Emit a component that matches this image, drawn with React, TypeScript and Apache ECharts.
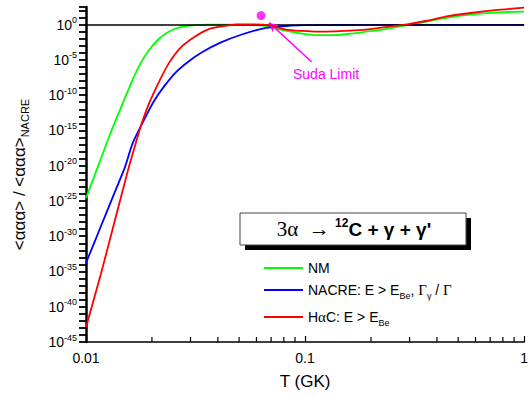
import React, { useEffect, useRef } from 'react';
import * as echarts from 'echarts';

// Temperature (GK) and rate ratios
const T_NM = [0.01, 0.01119, 0.01253, 0.01373, 0.01506, 0.01634, 0.01773, 0.01945, 0.02154, 0.02387, 0.02698, 0.03145, 0.0359, 0.0489, 0.05995, 0.0685, 0.0814, 0.097, 0.114, 0.136, 0.161, 0.19, 0.2268, 0.287, 0.3594, 0.45, 0.5694, 0.7356, 1.0];
const V_NM = [2.5e-25, 2.5e-21, 3.2e-17, 4.0e-14, 4.0e-11, 1.6e-8, 3.2e-6, 2.8e-4, 1.0e-2, 0.1, 0.45, 0.85, 1, 1, 0.85, 0.52, 0.14, 0.052, 0.032, 0.032, 0.052, 0.1, 0.2, 0.72, 2.7, 10, 26, 50, 71];

const T_NACRE = [0.01, 0.01166, 0.01359, 0.01506, 0.01634, 0.01848, 0.02048, 0.02268, 0.02564, 0.02929, 0.03415, 0.0411, 0.05142, 0.0663, 0.0858, 0.1, 0.2, 0.5, 1.0];
const V_NACRE = [1.6e-34, 2.0e-29, 2.5e-24, 6.3e-21, 1.6e-17, 4.0e-14, 1.6e-11, 1.6e-9, 1.6e-7, 5.6e-6, 1.4e-4, 2.8e-3, 0.04, 0.35, 0.7, 0.85, 0.9, 0.9, 0.9];

const T_HAC = [0.01, 0.01166, 0.01359, 0.01553, 0.01651, 0.01792, 0.01945, 0.02154, 0.02387, 0.02698, 0.03145, 0.0359, 0.0411, 0.0489, 0.057, 0.0685, 0.0814, 0.097, 0.114, 0.161, 0.19, 0.2268, 0.287, 0.3594, 0.45, 0.5694, 0.7356, 1.0];
const V_HAC = [1.26e-43, 3.2e-36, 2.5e-28, 2.0e-21, 1.6e-18, 7.9e-15, 7.9e-12, 7.9e-9, 3.2e-6, 5.0e-4, 2.0e-2, 0.2, 0.52, 1.12, 1.12, 0.85, 0.2, 0.126, 0.1, 0.141, 0.2, 0.4, 1, 3.55, 15.8, 44.7, 112, 251];

const SUDA_POINT = [0.063, 19];
const SUDA_ARROW_FROM = [0.0685, 1.9];
const SUDA_ARROW_TO = [0.107, 5.5e-6];
const REFERENCE_RATIO = 1;

const X_MIN = 0.01;
const X_MAX = 1;
const Y_MIN = 1e-45;
const Y_MAX = 316;
const X_MINOR_TICKS = [0.02, 0.03, 0.04, 0.05, 0.06, 0.07, 0.08, 0.09, 0.2, 0.3, 0.4, 0.5, 0.6, 0.7, 0.8, 0.9];
const X_TICK_LABELS = ['0.01', '0.1', '1'];
const Y_LABEL_STEP = 5; // labelled every 5 decades

const FONT = '"Liberation Sans", Arial, sans-serif';
const SERIF = '"Liberation Serif", "DejaVu Serif", serif';

const lg = (v: number) => Math.log10(v);
const zip = (xs: number[], ys: number[]) => xs.map((x, i) => [lg(x), lg(ys[i])]);

export default function App() {
  const ref = useRef<HTMLDivElement>(null);
  useEffect(() => {
    if (!ref.current) return;
    const chart = echarts.init(ref.current, null, { renderer: 'svg' });
    const legendBase = {
      orient: 'vertical',
      left: 264,
      icon: 'rect',
      itemWidth: 39,
      itemHeight: 2,
      itemGap: 0,
      padding: 0,
      selectedMode: false,
      textStyle: {
        fontFamily: FONT,
        fontSize: 14,
        color: '#000',
        lineHeight: 20,
        rich: {
          sub: { fontFamily: FONT, fontSize: 9, lineHeight: 9, verticalAlign: 'bottom', color: '#000' },
          g: { fontFamily: SERIF, fontSize: 15, lineHeight: 20, color: '#000' },
        },
      },
    };
    const legendText: Record<string, string> = {
      NM: 'NM',
      NACRE: 'NACRE: E > E{sub|Be}, {g|Γ}{sub|γ} / {g|Γ}',
      'HαC': 'H{g|α}C: E > E{sub|Be}',
    };
    const fmt = (n: string) => legendText[n] || n;
    const xMinExp = Math.round(lg(X_MIN));
    chart.setOption({
      animation: false,
      grid: { left: 75, right: 6, top: 7, bottom: 56, containLabel: false },
      legend: [
        { ...legendBase, top: 258, data: ['NM'], formatter: fmt },
        { ...legendBase, top: 280, data: ['NACRE'], formatter: fmt },
        { ...legendBase, top: 307, data: ['HαC'], formatter: fmt },
      ],
      xAxis: {
        type: 'value',
        min: lg(X_MIN),
        max: lg(X_MAX),
        interval: 1,
        name: 'T (GK)',
        nameLocation: 'middle',
        nameGap: 31,
        nameTextStyle: { fontFamily: FONT, fontSize: 17, color: '#000' },
        axisLine: { onZero: false, lineStyle: { color: '#000', width: 1.5 } },
        axisTick: { inside: true, length: 6, lineStyle: { color: '#000', width: 1.2 } },
        axisLabel: {
          fontFamily: FONT,
          fontSize: 14,
          color: '#000',
          margin: 9,
          formatter: (v: number) => X_TICK_LABELS[Math.round(v) - xMinExp] ?? '',
        },
        splitLine: { show: false },
      },
      yAxis: {
        type: 'value',
        min: lg(Y_MIN),
        max: lg(Y_MAX),
        interval: 1,
        name: '<ααα> / <ααα>{s|NACRE}',
        nameLocation: 'middle',
        nameRotate: 90,
        nameGap: 56,
        nameTextStyle: {
          fontFamily: FONT,
          fontSize: 17,
          color: '#000',
          lineHeight: 22,
          rich: { s: { fontFamily: FONT, fontSize: 11, lineHeight: 11, verticalAlign: 'bottom', color: '#000' } },
        },
        axisLine: { onZero: false, lineStyle: { color: '#000', width: 2.5 } },
        axisTick: { inside: false, length: 7, lineStyle: { color: '#000', width: 1.8 } },
        axisLabel: {
          interval: 0,
          margin: 9,
          fontFamily: FONT,
          fontSize: 14,
          color: '#000',
          formatter: (v: number) => {
            const e = Math.round(v);
            if (Math.abs(v - e) > 0.01) return '';
            if (e % Y_LABEL_STEP !== 0 || e > 0) return '';
            return `{b|10}{s|${e}}`;
          },
          rich: {
            b: { fontFamily: FONT, fontSize: 14, lineHeight: 18, color: '#000' },
            s: { fontFamily: FONT, fontSize: 9, lineHeight: 9, verticalAlign: 'top', color: '#000' },
          },
        },
        splitLine: { show: false },
      },
      series: [
        {
          name: 'NM',
          type: 'line',
          data: zip(T_NM, V_NM),
          showSymbol: false,
          smooth: 0.25,
          lineStyle: { color: '#00ff00', width: 1.8 },
          itemStyle: { color: '#00ff00' },
          z: 3,
          markLine: {
            silent: true,
            symbol: ['none', 'none'],
            label: { show: false },
            lineStyle: { color: '#000', width: 1.5, type: 'solid' },
            data: [{ yAxis: lg(REFERENCE_RATIO) }],
          },
        },
        {
          name: 'NACRE',
          type: 'line',
          data: zip(T_NACRE, V_NACRE),
          showSymbol: false,
          smooth: 0.25,
          lineStyle: { color: '#0000ff', width: 1.8 },
          itemStyle: { color: '#0000ff' },
          z: 4,
        },
        {
          name: 'HαC',
          type: 'line',
          data: zip(T_HAC, V_HAC),
          showSymbol: false,
          smooth: 0.25,
          lineStyle: { color: '#ff0000', width: 1.8 },
          itemStyle: { color: '#ff0000' },
          z: 5,
        },
        {
          name: 'Suda Limit',
          type: 'scatter',
          data: [[lg(SUDA_POINT[0]), lg(SUDA_POINT[1])]],
          symbolSize: 9,
          itemStyle: { color: '#ff00ff' },
          z: 6,
          markLine: {
            silent: true,
            symbol: ['arrow', 'none'],
            symbolSize: [7, 9],
            label: { show: false },
            lineStyle: { color: '#ff00ff', width: 1.5, type: 'solid' },
            data: [[
              { coord: [lg(SUDA_ARROW_FROM[0]), lg(SUDA_ARROW_FROM[1])] },
              { coord: [lg(SUDA_ARROW_TO[0]), lg(SUDA_ARROW_TO[1])] },
            ]],
          },
        },
        {
          name: 'xminor',
          type: 'custom',
          silent: true,
          clip: false,
          data: X_MINOR_TICKS.map((v) => [lg(v), lg(Y_MIN)]),
          encode: { x: 0, y: 1 },
          renderItem: (params: any, api: any) => {
            const p = api.coord([api.value(0), api.value(1)]);
            return {
              type: 'line',
              shape: { x1: p[0], y1: p[1], x2: p[0], y2: p[1] - 5 },
              style: { stroke: '#000', lineWidth: 1.2 },
            };
          },
          z: 2,
        },
      ],
      graphic: [
        {
          type: 'rect',
          shape: { x: 245, y: 218, width: 226, height: 32 },
          style: { fill: '#000' },
          z: 10,
        },
        {
          type: 'rect',
          shape: { x: 240, y: 213, width: 226, height: 32 },
          style: { fill: '#fff', stroke: '#444', lineWidth: 1 },
          z: 11,
        },
        {
          type: 'text',
          x: 354,
          y: 229,
          z: 12,
          style: {
            text: "{a|3α  → }{s|12}{b|C + γ + γ'}",
            align: 'center',
            verticalAlign: 'middle',
            rich: {
              a: { fontFamily: SERIF, fontSize: 21, lineHeight: 24, fill: '#000' },
              s: { fontFamily: FONT, fontSize: 12, fontWeight: 'bold', lineHeight: 12, verticalAlign: 'top', fill: '#000' },
              b: { fontFamily: FONT, fontSize: 19, fontWeight: 'bold', lineHeight: 24, fill: '#000' },
            },
          },
        },
        {
          type: 'text',
          x: 293,
          y: 67,
          z: 12,
          style: { text: 'Suda Limit', fontFamily: FONT, fontSize: 14, fill: '#ff00ff' },
        },
      ],
    });
    return () => chart.dispose();
  }, []);
  return <div ref={ref} style={{ width: 531, height: 398, position: 'absolute', left: 0, top: 0 }} />;
}
